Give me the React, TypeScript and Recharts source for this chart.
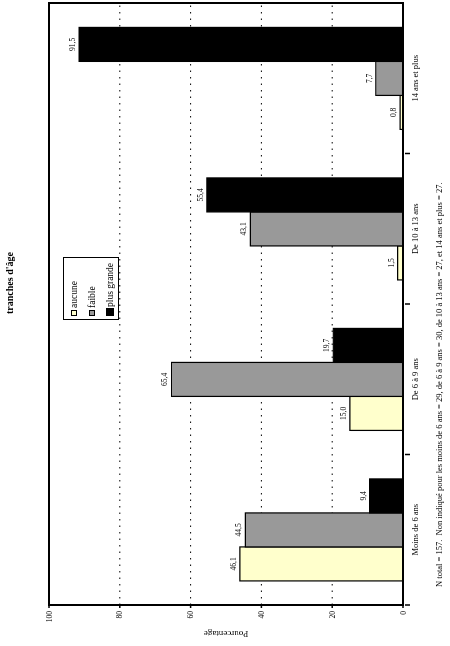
import React from 'react';
import { BarChart, Bar, XAxis, YAxis, CartesianGrid, LabelList, ReferenceArea } from 'recharts';

const categories = ['Moins de 6 ans', 'De 6 à 9 ans', 'De 10 à 13 ans', '14 ans et plus'];
const aucune = [46.1, 15.0, 1.5, 0.8];
const faible = [44.5, 65.4, 43.1, 7.7];
const plusGrande = [9.4, 19.7, 55.4, 91.5];
const yTicks = [0, 20, 40, 60, 80, 100];
const seriesNames = ['aucune', 'faible', 'plus grande'];
const seriesColors = ['#FFFFCC', '#999999', '#000000'];

const data = categories.map((c, i) => ({ cat: c, aucune: aucune[i], faible: faible[i], plus: plusGrande[i] }));

const FONT = '"Liberation Serif", "DejaVu Serif", serif';

const fmt = (v: any) => Number(v).toFixed(1).replace('.', ',');

const CatTick = (props: any) => {
  const { x, y, payload } = props;
  const off = payload && payload.offset ? payload.offset : 0;
  return (
    <g>
      <line x1={x - off} x2={x - off} y1={y} y2={y + 5} stroke="#000" strokeWidth={1.5} />
      <text x={x} y={y + 13} textAnchor="middle" fontSize={8.5} fontFamily={FONT} fill="#000">
        {payload.value}
      </text>
    </g>
  );
};

const LegendBox = () => (
  <div
    style={{
      position: 'absolute',
      left: 326,
      top: 63,
      border: '1px solid #000',
      width: 63,
      height: 56,
      boxSizing: 'border-box',
      padding: '1px 0 0 3px',
      background: '#fff',
      fontFamily: FONT,
      fontSize: 9.5,
      lineHeight: '18px',
    }}
  >
    {seriesNames.map((n, i) => (
      <div key={n} style={{ display: 'flex', alignItems: 'center', height: 18 }}>
        <span
          style={{
            display: 'inline-block',
            width: i === 2 ? 6 : 4,
            height: i === 2 ? 6 : 4,
            background: seriesColors[i],
            border: '1px solid #000',
            marginRight: i === 2 ? 1 : 2,
          }}
        />
        <span>{n}</span>
      </div>
    ))}
  </div>
);

export default function App() {
  return (
    <div
      style={{
        position: 'fixed',
        left: 0,
        top: 0,
        width: 646,
        height: 450,
        transformOrigin: '0 0',
        transform: 'translate(0px, 646px) rotate(-90deg)',
        background: '#fff',
      }}
    >
      <div
        style={{
          position: 'absolute',
          top: 4,
          left: 330,
          width: 66,
          textAlign: 'center',
          fontFamily: FONT,
          fontWeight: 'bold',
          fontSize: 10,
          whiteSpace: 'nowrap',
        }}
      >
        tranches d'âge
      </div>
      <div style={{ position: 'absolute', top: 0, left: 0 }}>
        <BarChart
          width={646}
          height={450}
          data={data}
          margin={{ top: 49, right: 3, left: 0, bottom: 0 }}
          barCategoryGap="16%"
          barGap={0}
        >
          <CartesianGrid vertical={false} stroke="#000" strokeDasharray="1.5 5" />
          <XAxis
            dataKey="cat"
            height={47}
            axisLine={{ stroke: '#000', strokeWidth: 2 }}
            tickLine={false}
            tickSize={0}
            tick={<CatTick />}
            interval={0}
          />
          <YAxis
            width={41}
            domain={[0, 100]}
            ticks={yTicks}
            axisLine={{ stroke: '#000', strokeWidth: 2 }}
            tickLine={{ stroke: '#000', strokeWidth: 1.5 }}
            tickSize={3}
            tickMargin={3}
            tick={{ fontSize: 7.5, fontFamily: FONT, fill: '#000' }}
            label={{
              value: 'Pourcentage',
              angle: -90,
              position: 'insideLeft',
              dx: 7,
              style: { fontSize: 9, fontFamily: FONT, fill: '#000', textAnchor: 'middle' },
            }}
          />
          <ReferenceArea y1={0} y2={100} fill="none" stroke="#000" strokeWidth={2} />
          <Bar dataKey="aucune" name="aucune" fill={seriesColors[0]} stroke="#000" strokeWidth={1.2} isAnimationActive={false}>
            <LabelList dataKey="aucune" position="top" offset={4} formatter={fmt} style={{ fontSize: 7.5, fontFamily: FONT, fill: '#000' }} />
          </Bar>
          <Bar dataKey="faible" name="faible" fill={seriesColors[1]} stroke="#000" strokeWidth={1.2} isAnimationActive={false}>
            <LabelList dataKey="faible" position="top" offset={4} formatter={fmt} style={{ fontSize: 7.5, fontFamily: FONT, fill: '#000' }} />
          </Bar>
          <Bar dataKey="plus" name="plus grande" fill={seriesColors[2]} stroke="#000" strokeWidth={1.2} isAnimationActive={false}>
            <LabelList dataKey="plus" position="top" offset={4} formatter={fmt} style={{ fontSize: 7.5, fontFamily: FONT, fill: '#000' }} />
          </Bar>
        </BarChart>
      </div>
      <LegendBox />
      <div
        style={{
          position: 'absolute',
          top: 434,
          left: 59,
          fontFamily: FONT,
          fontSize: 8.5,
          whiteSpace: 'nowrap',
        }}
      >
        N total = 157.&nbsp; Non indiqué pour les moins de 6 ans = 29, de 6 à 9 ans = 30, de 10 à 13 ans = 27, et 14 ans et plus = 27.
      </div>
    </div>
  );
}
